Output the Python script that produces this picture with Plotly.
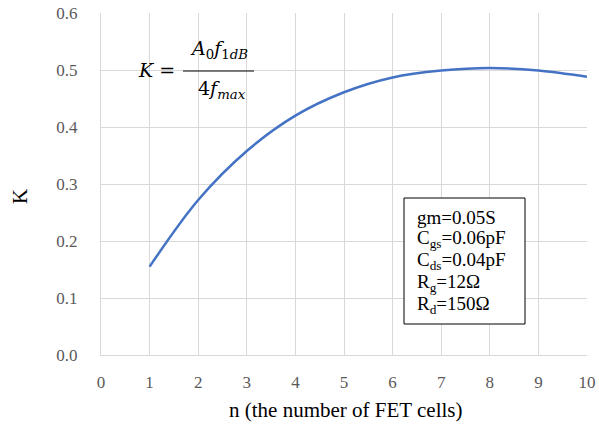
import plotly.graph_objects as go

n_cells = [1, 2, 3, 4, 5, 6, 7, 8, 9, 10]
k_values = [0.155, 0.272, 0.358, 0.420, 0.461, 0.487, 0.499, 0.5035, 0.499, 0.488]

x_ticks = list(range(0, 11))
y_ticks = [0.0, 0.1, 0.2, 0.3, 0.4, 0.5, 0.6]

params_lines = ["gm=0.05S", "C<sub>gs</sub>=0.06pF", "C<sub>ds</sub>=0.04pF",
                "R<sub>g</sub>=12Ω", "R<sub>d</sub>=150Ω"]

W, H = 599, 432
L, R, T, B = 101, 12, 13, 77
PW, PH = W - L - R, H - T - B

def px(x):
    return (x - L) / PW

def py(y):
    return (H - B - y) / PH

fig = go.Figure()
fig.add_trace(go.Scatter(x=n_cells, y=k_values, mode="lines",
                         line=dict(color="#4472C4", width=2.5, shape="spline", smoothing=1.0),
                         showlegend=False, hoverinfo="skip"))

serif = "Liberation Serif"
fig.update_layout(
    width=W, height=H,
    margin=dict(l=L, r=R, t=T, b=B, autoexpand=False),
    paper_bgcolor="white", plot_bgcolor="white",
    font=dict(family=serif, color="#595959"),
    xaxis=dict(range=[0, 10], tickvals=x_ticks, showgrid=True, gridcolor="#d9d9d9",
               gridwidth=1, showline=True, linecolor="#d9d9d9", zeroline=False,
               tickfont=dict(size=17, color="#595959", family=serif),
               ticks="", ticklabelstandoff=12, automargin=False),
    yaxis=dict(range=[0, 0.6], tickvals=y_ticks, tickformat=".1f", showgrid=True,
               gridcolor="#d9d9d9", gridwidth=1, showline=True, linecolor="#d9d9d9",
               zeroline=False, ticks="", ticklabelstandoff=19, automargin=False,
               tickfont=dict(size=17, color="#595959", family=serif)),
)

# axis titles
fig.add_annotation(xref="paper", yref="paper", x=px(345), y=py(410), xanchor="center",
                   yanchor="middle", text="n (the number of FET cells)", showarrow=False,
                   font=dict(family=serif, size=21, color="black"))
fig.add_annotation(xref="paper", yref="paper", x=px(20), y=py(197), xanchor="center",
                   yanchor="middle", text="K", showarrow=False, textangle=-90,
                   font=dict(family=serif, size=21, color="black"))

# white background behind formula
fig.add_shape(type="rect", xref="paper", yref="paper",
              x0=px(120), x1=px(270), y0=py(102), y1=py(20),
              fillcolor="white", line=dict(width=0), layer="between")

fig.add_annotation(xref="paper", yref="paper", x=px(136), y=py(70), xanchor="left",
                   yanchor="middle", text="<i>K</i> =", showarrow=False,
                   font=dict(family="DejaVu Serif", size=19, color="black"))
fig.add_annotation(xref="paper", yref="paper", x=px(219), y=py(50), xanchor="center",
                   yanchor="middle", text="<i>A</i><sub>0</sub><i>f</i><sub>1<i>dB</i></sub>",
                   showarrow=False,
                   font=dict(family="DejaVu Serif", size=19, color="black"))
fig.add_shape(type="line", xref="paper", yref="paper", x0=px(183), x1=px(254),
              y0=py(71), y1=py(71), line=dict(color="black", width=1))
fig.add_annotation(xref="paper", yref="paper", x=px(222), y=py(90), xanchor="center",
                   yanchor="middle", text="4<i>f</i><sub><i>max</i></sub>",
                   showarrow=False,
                   font=dict(family="DejaVu Serif", size=19, color="black"))

# parameter box
fig.add_shape(type="rect", xref="paper", yref="paper",
              x0=px(404), x1=px(525), y0=py(324), y1=py(198),
              fillcolor="white", line=dict(color="black", width=1), layer="above")
line_centers = [217, 239, 261, 283, 305]
for txt, yc in zip(params_lines, line_centers):
    fig.add_annotation(xref="paper", yref="paper", x=px(415), y=py(yc), xanchor="left",
                       yanchor="middle", align="left", text=txt, showarrow=False,
                       font=dict(family=serif, size=19, color="black"))

fig.write_html("out.html", config={"displayModeBar": False},
               post_script="document.body.style.margin='0';document.body.style.padding='0';")
